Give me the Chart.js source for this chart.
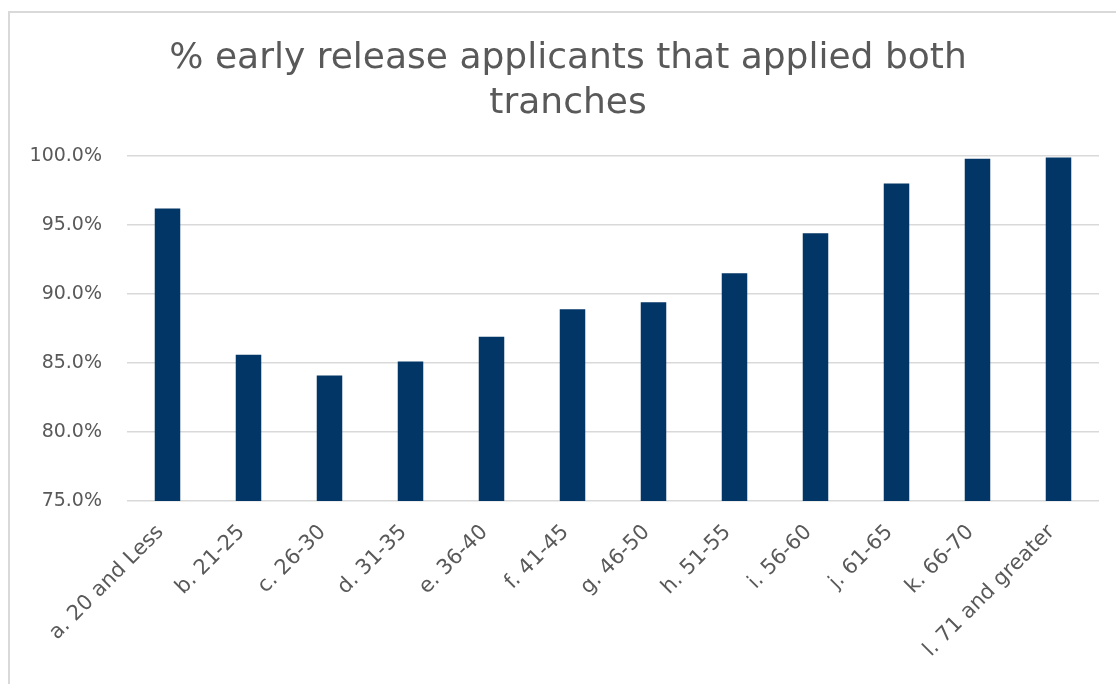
<!DOCTYPE html>
<html>
<head>
<meta charset="utf-8">
<script src="https://cdn.jsdelivr.net/npm/chart.js@4/dist/chart.umd.min.js"></script>
<style>
  html, body { margin: 0; padding: 0; background: #ffffff; }
  #wrap { position: relative; width: 1116px; height: 684px; overflow: hidden; }
  #frame { position: absolute; left: 8px; top: 11px; width: 1200px; height: 800px;
           border: 2px solid #d9d9d9; box-sizing: border-box; }
  #chart { position: absolute; left: 0; top: 0; }
</style>
</head>
<body>
<div id="wrap">
  <div id="frame"></div>
  <canvas id="chart" width="1116" height="684"></canvas>
</div>
<script>
// Age bands of applicants
const categories = [
  'a. 20 and Less', 'b. 21-25', 'c. 26-30', 'd. 31-35', 'e. 36-40', 'f. 41-45',
  'g. 46-50', 'h. 51-55', 'i. 56-60', 'j. 61-65', 'k. 66-70', 'l. 71 and greater'
];
// Share (%) of early release applicants that applied for both tranches
const bothTranchesPct = [96.2, 85.6, 84.1, 85.1, 86.9, 88.9, 89.4, 91.5, 94.4, 98.0, 99.8, 99.9];
// Value axis range and step (%)
const yMin = 75;
const yMax = 100;
const yStep = 5;

const titleLines = ['% early release applicants that applied both', 'tranches'];

const FONT = "'DejaVu Sans', sans-serif";
const TEXT = '#595959';
const GRID = '#d9d9d9';
const BAR = '#023666';

// Two-line title centred over the whole framed chart rather than the plot
const centredTitle = {
  id: 'centredTitle',
  afterDraw(chart, args, opts) {
    const ctx = chart.ctx;
    ctx.save();
    ctx.fillStyle = opts.color;
    ctx.font = `normal ${opts.size}px ${opts.family}`;
    ctx.textAlign = 'center';
    ctx.textBaseline = 'middle';
    const cx = (chart.width + opts.shift) / 2;
    opts.lines.forEach((line, i) => {
      ctx.fillText(line, cx, opts.firstY + i * opts.lineGap);
    });
    ctx.restore();
  }
};

new Chart(document.getElementById('chart'), {
  type: 'bar',
  data: {
    labels: categories,
    datasets: [{
      data: bothTranchesPct,
      backgroundColor: BAR,
      borderWidth: 0,
      barPercentage: 0.315,
      categoryPercentage: 1.0
    }]
  },
  plugins: [centredTitle],
  options: {
    responsive: false,
    animation: false,
    layout: { padding: { left: 0, right: 17, top: 156, bottom: 0 } },
    plugins: {
      legend: { display: false },
      tooltip: { enabled: false },
      title: { display: false },
      centredTitle: {
        lines: titleLines,
        color: TEXT,
        family: FONT,
        size: 36,
        shift: 20,
        firstY: 59,
        lineGap: 45
      }
    },
    scales: {
      x: {
        grid: { display: false, drawTicks: false },
        border: { display: false },
        ticks: {
          color: TEXT,
          font: { family: FONT, size: 21 },
          maxRotation: 45,
          minRotation: 45,
          padding: 19,
          labelOffset: -7,
          autoSkip: false
        },
        afterFit: s => { s.height = 183; }
      },
      y: {
        min: yMin,
        max: yMax,
        grid: { color: GRID, lineWidth: 1.5, drawTicks: false },
        border: { display: false },
        ticks: {
          stepSize: yStep,
          color: TEXT,
          font: { family: FONT, size: 19 },
          padding: 25,
          callback: v => v.toFixed(1) + '%'
        },
        afterFit: s => { s.width = 127; }
      }
    }
  }
});
</script>
</body>
</html>
